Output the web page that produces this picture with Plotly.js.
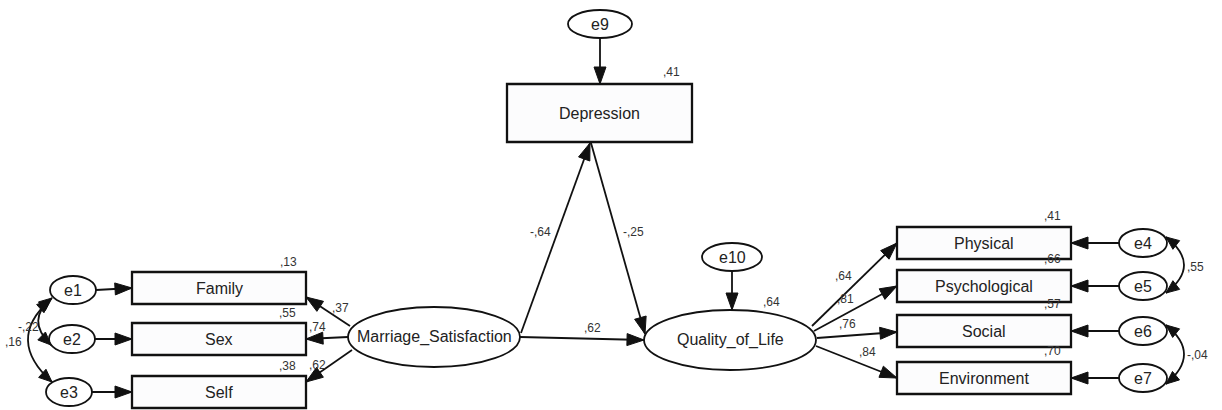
<!DOCTYPE html>
<html>
<head>
<meta charset="utf-8">
<script src="https://cdn.plot.ly/plotly-3.0.1.min.js"></script>
<style>html,body{margin:0;padding:0;background:#fff;}#chart{width:1222px;height:410px;}</style>
</head>
<body>
<div id="chart"></div>
<script>
// ---------- DATA ----------
const latentNames = ['Marriage_Satisfaction', 'Depression', 'Quality_of_Life'];
const msIndicators = ['Family', 'Sex', 'Self'];
const msLoadings = [0.37, 0.74, 0.62];
const msR2 = [0.13, 0.55, 0.38];
const msErrors = ['e1', 'e2', 'e3'];
const qolIndicators = ['Physical', 'Psychological', 'Social', 'Environment'];
const qolLoadings = [0.64, 0.81, 0.76, 0.84];
const qolR2 = [0.41, 0.66, 0.57, 0.70];
const qolErrors = ['e4', 'e5', 'e6', 'e7'];
const structErrors = ['e9', 'e10'];
const pathMsDep = -0.64;
const pathDepQol = -0.25;
const pathMsQol = 0.62;
const depR2 = 0.41;
const qolLatentR2 = 0.64;
const covLeft = [-0.22, 0.16];   // e1-e2, e1-e3
const covRight = [0.55, -0.04];  // e4-e5, e6-e7

// ---------- LAYOUT GEOMETRY (pixels, y down) ----------
const G = {
  ms: {cx: 434, cy: 337, rx: 86, ry: 30},
  qol: {cx: 730, cy: 340, rx: 86, ry: 30},
  dep: {x0: 507, x1: 692, y0: 84, y1: 142},
  e9: {cx: 600, cy: 24, rx: 32, ry: 14},
  e10: {cx: 732, cy: 257, rx: 30, ry: 14},
  leftBoxX: [132, 306], leftY: [288, 339, 392], leftErrX: [73, 72, 69],
  rightBoxX: [897, 1071], rightY: [243, 286, 331, 378], rightErrX: 1143,
  boxH: 32, errRx: 23, errRy: 14
};

const INK = '#111';
const LW = 1.8;
const shapes = [];
const annotations = [];
const FONT = 'Liberation Sans, Arial, sans-serif';
const NODE_FS = 16;
const COEF_FS = 12;
const COEF_COL = '#333';

function fmt(v) {
  const s = Math.abs(v).toFixed(2).replace(/^0\./, ',');
  return (v < 0 ? '-' : '') + s;
}
function line(x0, y0, x1, y1) {
  shapes.push({type: 'line', xref: 'x', yref: 'y', x0, y0, x1, y1, line: {color: INK, width: LW}});
}
function head(tx, ty, fx, fy, L, W) {
  L = L || 17; W = W || 6;
  const dx = tx - fx, dy = ty - fy, d = Math.hypot(dx, dy);
  const ux = dx / d, uy = dy / d;
  const bx = tx - ux * L, by = ty - uy * L;
  const px = -uy, py = ux;
  shapes.push({type: 'path', xref: 'x', yref: 'y',
    path: `M ${tx},${ty} L ${bx + px * W},${by + py * W} L ${bx - px * W},${by - py * W} Z`,
    fillcolor: INK, line: {color: INK, width: 1}});
}
function arrow(x0, y0, x1, y1) { line(x0, y0, x1, y1); head(x1, y1, x0, y0); }
function curve(p0, c, p1) {
  shapes.push({type: 'path', xref: 'x', yref: 'y',
    path: `M ${p0[0]},${p0[1]} Q ${c[0]},${c[1]} ${p1[0]},${p1[1]}`,
    line: {color: INK, width: LW}});
  head(p0[0], p0[1], c[0], c[1], 13, 5.5);
  head(p1[0], p1[1], c[0], c[1], 13, 5.5);
}
function ellipse(e) {
  shapes.push({type: 'circle', xref: 'x', yref: 'y', x0: e.cx - e.rx, x1: e.cx + e.rx,
    y0: e.cy - e.ry, y1: e.cy + e.ry, fillcolor: '#fff', line: {color: INK, width: LW}});
}
function box(x0, x1, y0, y1) {
  shapes.push({type: 'rect', xref: 'x', yref: 'y', x0, x1, y0, y1,
    fillcolor: '#fcfcfd', line: {color: INK, width: 2.3}});
}
function text(x, y, t, size, color) {
  annotations.push({x, y, xref: 'x', yref: 'y', text: t, showarrow: false,
    xanchor: 'center', yanchor: 'middle',
    font: {family: FONT, size: size || NODE_FS, color: color || '#222'}});
}

// ---------- LEFT MEASUREMENT MODEL ----------
const msArrowStart = [[350, 326], [348, 337], [352, 350]];
const msArrowTip = [[306, 297], [306, 339], [306, 382]];
const msR2Pos = [[288, 262], [287, 313], [287, 366]];
const msLoadPos = [[340, 308], [317, 327], [317, 365]];
msIndicators.forEach((name, i) => {
  const y = G.leftY[i];
  box(G.leftBoxX[0], G.leftBoxX[1], y - G.boxH / 2, y + G.boxH / 2);
  text((G.leftBoxX[0] + G.leftBoxX[1]) / 2, y, name);
  const e = {cx: G.leftErrX[i], cy: y + (i === 0 ? 2 : 0), rx: G.errRx, ry: G.errRy};
  ellipse(e);
  text(e.cx, e.cy, msErrors[i]);
  arrow(e.cx + e.rx, e.cy, G.leftBoxX[0], e.cy - (i === 0 ? 2 : 0));
  arrow(msArrowStart[i][0], msArrowStart[i][1], msArrowTip[i][0], msArrowTip[i][1]);
  text(msR2Pos[i][0], msR2Pos[i][1], fmt(msR2[i]), COEF_FS, COEF_COL);
  text(msLoadPos[i][0], msLoadPos[i][1], fmt(msLoadings[i]), COEF_FS, COEF_COL);
});
curve([52, 298], [25, 320], [51, 345]);
curve([50, 300], [5, 340], [52, 382]);
text(28, 327, fmt(covLeft[0]), COEF_FS, COEF_COL);
text(13, 342, fmt(covLeft[1]), COEF_FS, COEF_COL);

// ---------- RIGHT MEASUREMENT MODEL ----------
const qolStart = [[812, 326], [814, 331], [817, 338], [816, 346]];
const qolTip = [[897, 243], [897, 286], [897, 332], [897, 378]];
const qolLoadPos = [[843, 276], [845, 299], [847, 324], [867, 352]];
qolIndicators.forEach((name, i) => {
  const y = G.rightY[i];
  box(G.rightBoxX[0], G.rightBoxX[1], y - G.boxH / 2, y + G.boxH / 2);
  text((G.rightBoxX[0] + G.rightBoxX[1]) / 2, y, name);
  const e = {cx: G.rightErrX, cy: y, rx: 24, ry: G.errRy};
  ellipse(e);
  text(e.cx, e.cy, qolErrors[i]);
  arrow(e.cx - e.rx, y, G.rightBoxX[1], y);
  arrow(qolStart[i][0], qolStart[i][1], qolTip[i][0], qolTip[i][1]);
  text(1052, y - 27, fmt(qolR2[i]), COEF_FS, COEF_COL);
  text(qolLoadPos[i][0], qolLoadPos[i][1], fmt(qolLoadings[i]), COEF_FS, COEF_COL);
});
curve([1166, 237], [1202, 265], [1166, 293]);
curve([1166, 325], [1202, 354], [1166, 384]);
text(1195, 267, fmt(covRight[0]), COEF_FS, COEF_COL);
text(1197, 355, fmt(covRight[1]), COEF_FS, COEF_COL);

// ---------- STRUCTURAL MODEL ----------
box(G.dep.x0, G.dep.x1, G.dep.y0, G.dep.y1);
text((G.dep.x0 + G.dep.x1) / 2, (G.dep.y0 + G.dep.y1) / 2, latentNames[1]);
ellipse(G.e9); text(G.e9.cx, G.e9.cy, structErrors[0]);
arrow(G.e9.cx, G.e9.cy + G.e9.ry, G.e9.cx, G.dep.y0);
text(671, 72, fmt(depR2), COEF_FS, COEF_COL);

ellipse(G.ms); text(G.ms.cx, G.ms.cy, latentNames[0]);
ellipse(G.qol); text(G.qol.cx, G.qol.cy, latentNames[2]);
ellipse(G.e10); text(G.e10.cx, G.e10.cy, structErrors[1]);
arrow(G.e10.cx, G.e10.cy + G.e10.ry, G.e10.cx, G.qol.cy - G.qol.ry);
text(771, 302, fmt(qolLatentR2), COEF_FS, COEF_COL);

arrow(521, 333, 590, 143);
arrow(591, 143, 645, 334);
arrow(520, 337, 644, 340);
text(540, 232, fmt(pathMsDep), COEF_FS, COEF_COL);
text(633, 232, fmt(pathDepQol), COEF_FS, COEF_COL);
text(592, 328, fmt(pathMsQol), COEF_FS, COEF_COL);

const layout = {
  width: 1222, height: 410,
  margin: {l: 0, r: 0, t: 0, b: 0},
  paper_bgcolor: '#fff', plot_bgcolor: '#fff',
  xaxis: {range: [0, 1222], visible: false, fixedrange: true},
  yaxis: {range: [410, 0], visible: false, fixedrange: true},
  showlegend: false,
  shapes, annotations
};
Plotly.newPlot('chart', [], layout, {staticPlot: true, displayModeBar: false});
</script>
</body>
</html>
